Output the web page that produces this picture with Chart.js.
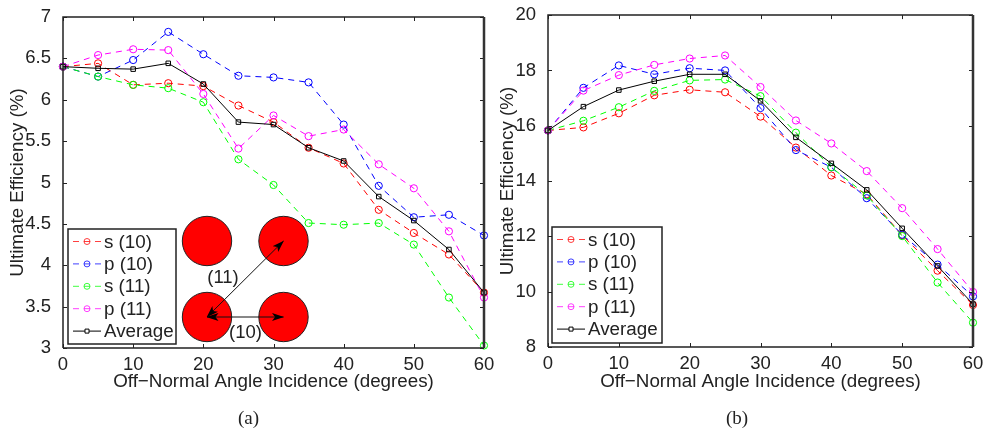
<!DOCTYPE html>
<html>
<head>
<meta charset="utf-8">
<script src="https://cdn.jsdelivr.net/npm/chart.js@4/dist/chart.umd.js"></script>
<style>
html, body { margin: 0; padding: 0; background: #fff; }
#page { position: relative; width: 984px; height: 432px; overflow: hidden; }
canvas, svg { position: absolute; top: 0; }
.cap { position: absolute; top: 407px; font: 19px "Liberation Serif", serif; color: #222; }
</style>
</head>
<body>
<div id="page">
  <div style="position:absolute;left:0;top:0;width:500px;height:432px"><canvas id="chartA"></canvas></div>
  <div style="position:absolute;left:500px;top:0;width:484px;height:432px"><canvas id="chartB"></canvas></div>
  <svg width="500" height="432" style="left:0" font-family="Liberation Sans, Arial, sans-serif" font-size="18.5" fill="#222">
    <defs>
      <marker id="head" viewBox="0 0 12 8" refX="11.5" refY="4" markerWidth="12" markerHeight="8" orient="auto-start-reverse" markerUnits="userSpaceOnUse">
        <path d="M0,0 L12,4 L0,8 L3,4 Z" fill="#000"></path>
      </marker>
    </defs>
    <g fill="#ff0000" stroke="#222" stroke-width="1">
      <circle cx="207" cy="241" r="24.7"></circle>
      <circle cx="283.5" cy="241" r="24.7"></circle>
      <circle cx="207" cy="317" r="24.7"></circle>
      <circle cx="283.5" cy="317" r="24.7"></circle>
    </g>
    <g stroke="#111" stroke-width="1" fill="none">
      <line x1="207" y1="317" x2="283.5" y2="241" marker-start="url(#head)" marker-end="url(#head)"></line>
      <line x1="207" y1="317" x2="283.5" y2="317" marker-start="url(#head)" marker-end="url(#head)"></line>
    </g>
    <text x="223" y="283" text-anchor="middle">(11)</text>
    <text x="245.5" y="338" text-anchor="middle">(10)</text>
  </svg>
  <div class="cap" style="left:238px">(a)</div>
  <div class="cap" style="left:726px">(b)</div>
</div>
<script>
var angles = [0, 5, 10, 15, 20, 25, 30, 35, 40, 45, 50, 55, 60];
var xTicks = [0, 10, 20, 30, 40, 50, 60];
var yTicksA = [3, 3.5, 4, 4.5, 5, 5.5, 6, 6.5, 7];
var yTicksB = [8, 10, 12, 14, 16, 18, 20];
var seriesNames = ["s (10)", "p (10)", "s (11)", "p (11)", "Average"];
var seriesColors = ["#ff0000", "#0000ff", "#00ff00", "#ff00ff", "#000000"];

// panel (a)
var s10a = [6.40, 6.44, 6.18, 6.20, 6.165, 5.93, 5.73, 5.42, 5.23, 4.67, 4.39, 4.13, 3.67];
var p10a = [6.40, 6.28, 6.48, 6.82, 6.55, 6.29, 6.27, 6.21, 5.70, 4.96, 4.58, 4.61, 4.36];
var s11a = [6.40, 6.28, 6.18, 6.14, 5.97, 5.28, 4.97, 4.51, 4.49, 4.51, 4.25, 3.61, 3.03];
var p11a = [6.40, 6.54, 6.61, 6.60, 6.07, 5.41, 5.81, 5.56, 5.64, 5.22, 4.93, 4.41, 3.61];
var avgA = [6.40, 6.38, 6.37, 6.44, 6.19, 5.73, 5.70, 5.42, 5.26, 4.83, 4.54, 4.19, 3.67];

// panel (b)
var s10b = [15.83, 15.94, 16.45, 17.10, 17.30, 17.21, 16.33, 15.21, 14.20, 13.52, 12.04, 10.76, 9.52];
var p10b = [15.83, 17.37, 18.18, 17.86, 18.08, 18.00, 16.64, 15.12, 14.50, 13.38, 12.06, 10.98, 9.83];
var s11b = [15.83, 16.18, 16.67, 17.26, 17.64, 17.67, 17.07, 15.75, 14.50, 13.48, 12.01, 10.33, 8.88];
var p11b = [15.83, 17.27, 17.83, 18.20, 18.43, 18.54, 17.40, 16.19, 15.36, 14.36, 13.02, 11.54, 9.99];
var avgB = [15.83, 16.69, 17.29, 17.61, 17.86, 17.86, 16.90, 15.58, 14.64, 13.68, 12.29, 10.93, 9.55];

var fontName = '"Liberation Sans", Arial, sans-serif';
var textColor = "#222";

// matlab style inward ticks and box
var framePlugin = {
    id: "frame",
    afterDatasetsDraw: function (chart) {
        var c = chart.ctx, a = chart.chartArea, x = chart.scales.x, y = chart.scales.y;
        c.save();
        c.strokeStyle = "#222";
        c.lineWidth = 1;
        c.beginPath();
        x.ticks.forEach(function (t, i) {
            var p = Math.round(x.getPixelForTick(i)) + 0.5;
            c.moveTo(p, a.bottom); c.lineTo(p, a.bottom - 4);
            c.moveTo(p, a.top); c.lineTo(p, a.top + 4);
        });
        y.ticks.forEach(function (t, i) {
            var p = Math.round(y.getPixelForTick(i)) + 0.5;
            c.moveTo(a.left, p); c.lineTo(a.left + 4, p);
            c.moveTo(a.right, p); c.lineTo(a.right - 4, p);
        });
        c.stroke();
        c.lineWidth = 1.5;
        c.beginPath();
        c.moveTo(a.left, a.bottom); c.lineTo(a.left, a.top); c.lineTo(a.right, a.top);
        c.moveTo(a.left, a.bottom); c.lineTo(a.right, a.bottom);
        c.stroke();
        c.lineWidth = 2.5;
        c.strokeStyle = "#333";
        c.beginPath();
        c.moveTo(a.right, a.top); c.lineTo(a.right, a.bottom);
        c.stroke();
        c.restore();
    }
};

// legend box inside the axes, the built in one can't sit at a set place
var boxPlugin = {
    id: "legendBox",
    afterDraw: function (chart, args, opts) {
        var c = chart.ctx;
        c.save();
        c.fillStyle = "#fff";
        c.strokeStyle = "#222";
        c.lineWidth = 1.5;
        c.fillRect(opts.left, opts.top, opts.width, opts.height);
        c.strokeRect(opts.left, opts.top, opts.width, opts.height);
        c.font = "18.8px " + fontName;
        c.textBaseline = "middle";
        chart.data.datasets.forEach(function (ds, i) {
            var y = opts.top + 12.5 + i * 22.4;
            var x0 = opts.left + 5, x1 = opts.left + 33, xm = (x0 + x1) / 2;
            c.strokeStyle = ds.borderColor;
            c.globalAlpha = i < 4 ? 0.75 : 1;
            c.lineWidth = 1;
            c.setLineDash(i < 4 ? [6, 16, 6, 16] : []);
            c.beginPath(); c.moveTo(x0, y); c.lineTo(x1, y); c.stroke();
            c.setLineDash([]);
            c.beginPath();
            if (i < 4) {
                c.arc(xm, y, 3, 0, Math.PI * 2);
                c.moveTo(xm - 3, y); c.lineTo(xm + 3, y);
                c.stroke();
            } else {
                c.fillStyle = "#fff";
                c.rect(xm - 2, y - 2, 4, 4);
                c.fill(); c.stroke();
            }
            c.globalAlpha = 1;
            c.fillStyle = textColor;
            c.fillText(ds.label, opts.left + 36, y + 1);
        });
        c.restore();
    }
};

function makeChart(id, names, values, yTicks, yMin, yMax, yWidth, leftPad, rightPad, topPad, bottomPad, xHeight, legendBox) {
    var datasets = names.map(function (name, i) {
        var last = i === 4;
        return {
            label: name,
            data: values[i],
            borderColor: seriesColors[i],
            backgroundColor: "transparent",
            borderWidth: 1,
            borderDash: last ? [] : [6, 5],
            pointStyle: last ? "rect" : "circle",
            pointRadius: last ? 3.2 : 3.6,
            pointBorderWidth: 1,
            pointBackgroundColor: "transparent",
            pointBorderColor: seriesColors[i],
            tension: 0,
            clip: false,
            order: 4 - i
        };
    });

    return new Chart(document.getElementById(id), {
        type: "line",
        data: { labels: angles, datasets: datasets },
        plugins: [framePlugin, boxPlugin],
        options: {
            responsive: true,
            maintainAspectRatio: false,
            animation: false,
            layout: { padding: { left: leftPad, right: rightPad, top: topPad, bottom: bottomPad } },
            plugins: {
                legend: { display: false },
                tooltip: { enabled: false },
                legendBox: legendBox
            },
            scales: {
                x: {
                    type: "linear",
                    min: 0,
                    max: 60,
                    afterBuildTicks: function (s) { s.ticks = xTicks.map(function (v) { return { value: v }; }); },
                    afterFit: function (s) { s.height = xHeight; },
                    grid: { display: false },
                    border: { display: false },
                    ticks: { color: textColor, font: { family: fontName, size: 18.5 }, padding: -2, maxRotation: 0, autoSkip: false },
                    title: {
                        display: true,
                        text: "Off\u2212Normal Angle Incidence (degrees)",
                        color: textColor,
                        font: { family: fontName, size: 18.8 },
                        padding: { top: 0, bottom: 0 }
                    }
                },
                y: {
                    min: yMin,
                    max: yMax,
                    afterBuildTicks: function (s) { s.ticks = yTicks.map(function (v) { return { value: v }; }); },
                    afterFit: function (s) { s.width = yWidth; },
                    grid: { display: false },
                    border: { display: false },
                    ticks: {
                        color: textColor,
                        font: { family: fontName, size: 18.5 },
                        padding: 4,
                        autoSkip: false,
                        callback: function (v) { return String(v); }
                    },
                    title: {
                        display: true,
                        text: "Ultimate Efficiency (%)",
                        color: textColor,
                        font: { family: fontName, size: 18.8 },
                        padding: { top: -3, bottom: 0 }
                    }
                }
            }
        }
    });
}

document.addEventListener("DOMContentLoaded", function () {
    makeChart("chartA", seriesNames, [s10a, p10a, s11a, p11a, avgA], yTicksA, 3, 7, 53, 10, 16, 17, 39, 45,
        { left: 68, top: 229, width: 108, height: 115 });
    makeChart("chartB", seriesNames, [s10b, p10b, s11b, p11b, avgB], yTicksB, 8, 20, 48, 0, 11, 13, 39, 46,
        { left: 52, top: 227, width: 110, height: 116 });
});
</script>
</body>
</html>
